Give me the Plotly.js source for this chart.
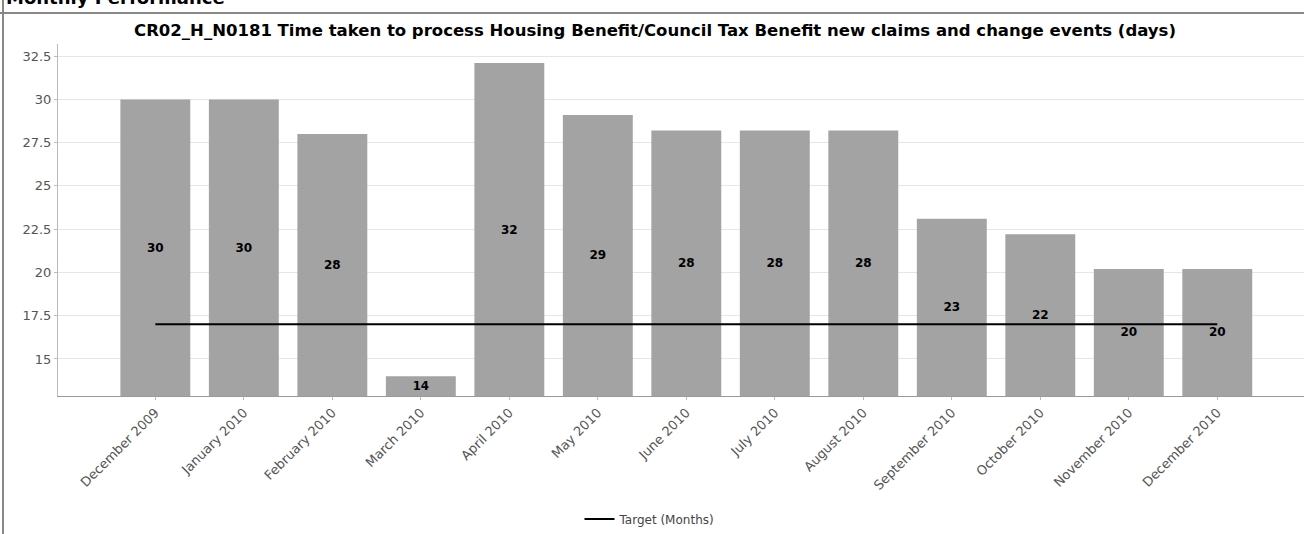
<!DOCTYPE html>
<html>
<head>
<meta charset="utf-8">
<script src="https://cdn.plot.ly/plotly-3.0.1.min.js"></script>
<style>
  html, body { margin: 0; padding: 0; background: #ffffff; }
  #chart { width: 1304px; height: 534px; }
</style>
</head>
<body>
<div id="chart"></div>
<script>
const months = ["December 2009", "January 2010", "February 2010", "March 2010", "April 2010", "May 2010",
  "June 2010", "July 2010", "August 2010", "September 2010", "October 2010", "November 2010", "December 2010"];
const days = [30.0, 30.0, 28.0, 14.0, 32.1, 29.1, 28.2, 28.2, 28.2, 23.1, 22.2, 20.2, 20.2];
const dayLabels = ["30", "30", "28", "14", "32", "29", "28", "28", "28", "23", "22", "20", "20"];
const target = [17, 17, 17, 17, 17, 17, 17, 17, 17, 17, 17, 17, 17];
const yTicks = [15, 17.5, 20, 22.5, 25, 27.5, 30, 32.5];
const yTickText = ["15", "17.5", "20", "22.5", "25", "27.5", "30", "32.5"];

const yMin = 12.86, yMax = 33.2;

const bars = {
  type: "bar",
  x: months,
  base: yMin,
  y: days.map(v => v - yMin),
  text: dayLabels,
  textposition: "inside",
  insidetextanchor: "middle",
  textangle: 0,
  textfont: { family: "DejaVu Sans", size: 12, color: "#000000", weight: "bold" },
  marker: { color: "#a3a3a3", line: { width: 0 } },
  width: 0.79,
  showlegend: false,
  hoverinfo: "skip"
};

const targetLine = {
  type: "scatter",
  mode: "lines",
  x: months,
  y: target,
  name: "Target (Months)",
  line: { color: "#000000", width: 2 },
  showlegend: true
};

const layout = {
  width: 1304,
  height: 534,
  margin: { l: 58, r: 0, t: 44, b: 138 },
  paper_bgcolor: "#ffffff",
  plot_bgcolor: "#ffffff",
  font: { family: "DejaVu Sans", color: "#555555" },
  title: {
    text: "<b>CR02_H_N0181 Time taken to process Housing Benefit/Council Tax Benefit new claims and change events (days)</b>",
    font: { family: "DejaVu Sans", size: 16.5, color: "#000000" },
    x: (655) / 1304, xref: "container", xanchor: "center",
    y: 1 - 30 / 534, yref: "container", yanchor: "middle"
  },
  xaxis: {
    type: "category",
    range: [-1.1, 12.98],
    tickangle: -45,
    tickfont: { family: "DejaVu Sans", size: 13, color: "#555555" },
    showgrid: false,
    showline: true,
    linecolor: "#999999",
    linewidth: 1,
    ticks: "outside",
    ticklen: 3,
    tickcolor: "#bbbbbb",
    zeroline: false,
    fixedrange: true
  },
  yaxis: {
    range: [yMin, yMax],
    tickvals: yTicks,
    ticktext: yTickText,
    tickfont: { family: "DejaVu Sans", size: 13, color: "#555555" },
    showgrid: true,
    gridcolor: "#e6e6e6",
    gridwidth: 1,
    showline: true,
    linecolor: "#bbbbbb",
    linewidth: 1,
    ticks: "outside",
    ticklen: 3,
    tickcolor: "#bbbbbb",
    zeroline: false,
    fixedrange: true
  },
  showlegend: true,
  legend: {
    orientation: "h",
    x: (650 - 58) / 1246,
    xanchor: "center",
    y: (396 - 519) / 352,
    yanchor: "middle",
    font: { family: "DejaVu Sans", size: 12, color: "#444444" },
    bgcolor: "rgba(0,0,0,0)"
  },
  shapes: [
    { type: "line", xref: "paper", yref: "paper",
      x0: (0 - 58) / 1246, x1: 1, y0: (396 - 13) / 352, y1: (396 - 13) / 352,
      line: { color: "#888888", width: 2 } },
    { type: "line", xref: "paper", yref: "paper",
      x0: (3 - 58) / 1246, x1: (3 - 58) / 1246, y0: (396 - 0) / 352, y1: (396 - 534) / 352,
      line: { color: "#888888", width: 2 } }
  ],
  annotations: [
    { text: "<b>Monthly Performance</b>", xref: "paper", yref: "paper",
      x: (4 - 58) / 1246, xanchor: "left",
      y: (396 - 10) / 352, yanchor: "bottom",
      showarrow: false,
      font: { family: "DejaVu Sans", size: 18, color: "#000000" } }
  ]
};

Plotly.newPlot("chart", [bars, targetLine], layout, { displayModeBar: false, staticPlot: true });
</script>
</body>
</html>
